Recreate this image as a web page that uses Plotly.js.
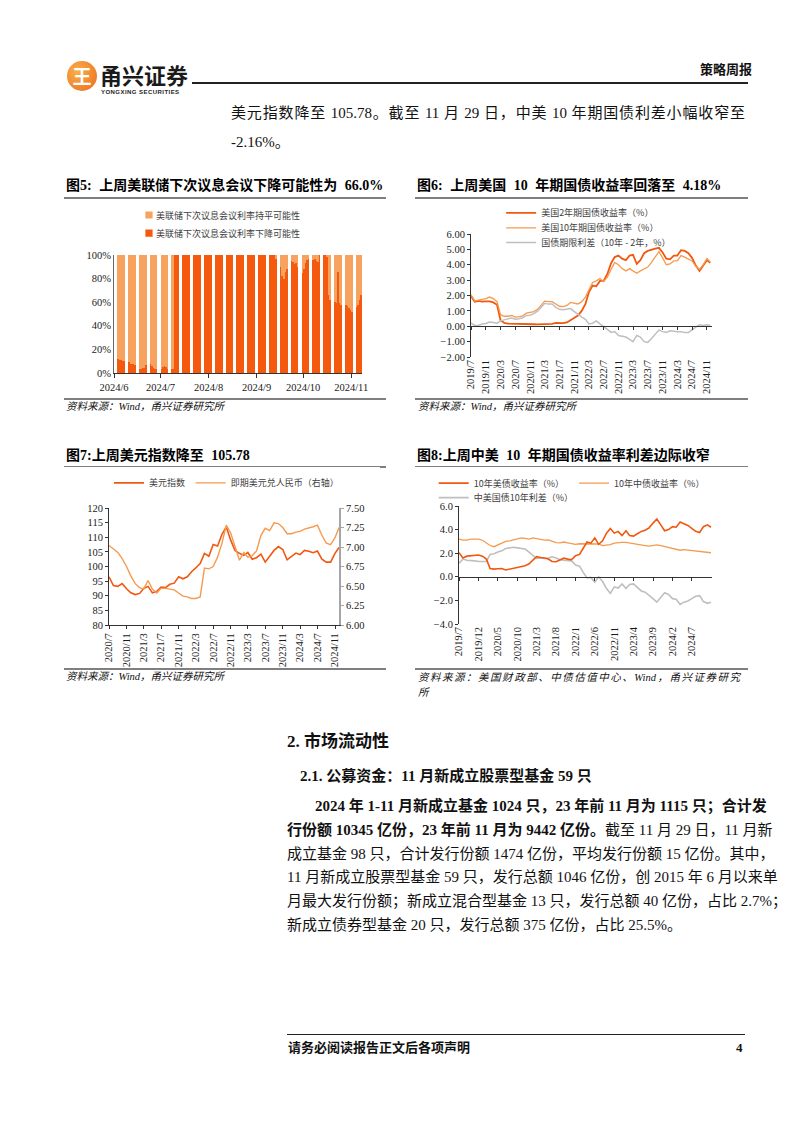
<!DOCTYPE html>
<html><head><meta charset="utf-8">
<script src="https://cdn.plot.ly/plotly-3.0.1.min.js"></script>
<style>
html,body{margin:0;padding:0;background:#fff}
body{width:802px;height:1133px;position:relative;overflow:hidden;font-family:"Liberation Serif","Noto Sans CJK SC",serif;color:#111}
.a{position:absolute;white-space:nowrap}
.b{font-weight:bold}
.cj{font-family:"Noto Sans CJK SC",sans-serif}
.j{text-align:justify;text-align-last:justify}
.hl{position:absolute;background:#7f7f7f;height:1.5px}
.src{position:absolute;font-style:italic;font-size:10.5px;line-height:14px;color:#111;white-space:nowrap}
.ttl{position:absolute;font-weight:bold;font-size:14px;line-height:16px;white-space:nowrap;color:#000;word-spacing:4px}
.p{position:absolute;font-size:15px;line-height:18px;white-space:nowrap}
.chart{position:absolute}
#c5 .legendpoints path{transform-origin:0 0;transform:translate(33px,0px) scale(0.6) !important;}
</style></head>
<body>
<!-- header -->
<div class="a" style="left:67px;top:61px;width:30px;height:30px;border-radius:50%;background:radial-gradient(circle at 35% 35%,#f8b04a,#ec6a1c);"></div>
<div class="a cj b" style="left:67px;top:61px;width:30px;height:30px;line-height:30px;text-align:center;font-size:19px;color:#fff;">王</div>
<div class="a cj b" style="left:100px;top:63px;font-size:22px;line-height:22px;color:#1a1a1a;">甬兴证券</div>
<div class="a b" style="left:101px;top:89px;font-size:6px;line-height:7px;letter-spacing:0.45px;font-family:'Liberation Sans',sans-serif;color:#222;">YONGXING SECURITIES</div>
<div class="a" style="left:192px;top:82px;width:556px;height:2px;background:#222;"></div>
<div class="a b" style="left:700px;top:62px;font-size:13px;line-height:16px;width:46px;text-align:right;">策略周报</div>

<div class="p j" style="left:231px;top:104px;width:514px;">美元指数降至 105.78。截至 11 月 29 日，中美 10 年期国债利差小幅收窄至</div>
<div class="p" style="left:231px;top:133px;">-2.16%。</div>

<!-- chart titles row 1 -->
<div class="ttl" style="left:66px;top:178px;">图5: 上周美联储下次议息会议下降可能性为 66.0%</div>
<div class="hl" style="left:64px;top:197px;width:322px;"></div>
<div class="ttl" style="left:417px;top:178px;">图6: 上周美国 10 年期国债收益率回落至 4.18%</div>
<div class="hl" style="left:415px;top:197px;width:333px;"></div>

<div id="c5" class="chart" style="left:60px;top:200px;width:320px;height:200px;"></div>
<div id="c6" class="chart" style="left:410px;top:200px;width:345px;height:200px;"></div>

<div class="hl" style="left:64px;top:398px;width:322px;"></div>
<div class="src" style="left:66px;top:400px;">资料来源：Wind，甬兴证券研究所</div>
<div class="hl" style="left:415px;top:398px;width:333px;"></div>
<div class="src" style="left:418px;top:400px;">资料来源：Wind，甬兴证券研究所</div>

<!-- chart titles row 2 -->
<div class="ttl" style="left:66px;top:448px;">图7:上周美元指数降至 105.78</div>
<div class="hl" style="left:64px;top:466px;width:322px;"></div>
<div class="ttl" style="left:417px;top:448px;">图8:上周中美 10 年期国债收益率利差边际收窄</div>
<div class="hl" style="left:415px;top:466px;width:333px;"></div>

<div id="c7" class="chart" style="left:60px;top:467px;width:320px;height:204px;"></div>
<div id="c8" class="chart" style="left:410px;top:467px;width:345px;height:204px;"></div>

<div class="hl" style="left:64px;top:668px;width:322px;"></div>
<div class="src" style="left:66px;top:670px;">资料来源：Wind，甬兴证券研究所</div>
<div class="hl" style="left:415px;top:668px;width:333px;"></div>
<div class="src j" style="left:418px;top:671px;width:322px;">资料来源：美国财政部、中债估值中心、Wind，甬兴证券研究</div>
<div class="src" style="left:418px;top:686px;">所</div>

<!-- section -->
<div class="a b" style="left:287px;top:732px;font-size:17px;line-height:20px;">2. 市场流动性</div>
<div class="a b" style="left:300px;top:767px;font-size:15px;line-height:18px;">2.1. 公募资金：11 月新成立股票型基金 59 只</div>

<div class="p j b" style="left:315px;top:797px;width:427px;">2024 年 1-11 月新成立基金 1024 只，23 年前 11 月为 1115 只；合计发</div>
<div class="p j" style="left:287px;top:821px;width:455px;"><b>行份额 10345 亿份，23 年前 11 月为 9442 亿份。</b>截至 11 月 29 日，11 月新</div>
<div class="p j" style="left:287px;top:845px;width:455px;">成立基金 98 只，合计发行份额 1474 亿份，平均发行份额 15 亿份。其中，</div>
<div class="p j" style="left:287px;top:868px;width:455px;">11 月新成立股票型基金 59 只，发行总额 1046 亿份，创 2015 年 6 月以来单</div>
<div class="p j" style="left:287px;top:892px;width:455px;">月最大发行份额；新成立混合型基金 13 只，发行总额 40 亿份，占比 2.7%；</div>
<div class="p" style="left:287px;top:916px;">新成立债券型基金 20 只，发行总额 375 亿份，占比 25.5%。</div>

<!-- footer -->
<div class="a" style="left:287px;top:1034px;width:458px;height:1px;background:#222;"></div>
<div class="a b" style="left:288px;top:1040px;font-size:13px;line-height:15px;">请务必阅读报告正文后各项声明</div>
<div class="a b" style="left:736px;top:1040px;font-size:13px;line-height:15px;">4</div>

<script>
// ---------------- data ----------------
// Fig 5: weekly rows (Mon..Fri) of next-FOMC probabilities, %, starting week of 2024-06-03
const fedWeekStart = '2024-06-03';
const cutProbWeeks = [
  [12,11,11,10,10],[9,8,8,8,7],[3,3,4,4,7],[8,6,4,3,3],[3,5,6,5,3],[3,3,100,100,100],
  [100,100,100,100,100],[100,100,100,100,100],[100,100,100,100,100],[100,100,100,100,100],
  [100,100,100,100,100],[100,100,100,100,100],[100,100,100,100,100],[100,100,100,100,100],
  [100,100,100,100,97],[90,82,80,86,88],[95,94,92,93,90],[85,88,93,96,97],[96,97,95,94,100],
  [100,100,98,66,62],[60,59,86,59,58],[58,57,55,53,52],[56,58,62,66]
];
const holdProbWeeks = [
  [88,89,89,90,90],[91,92,92,92,93],[97,97,96,96,93],[92,94,96,97,97],[97,95,94,95,97],[97,97,0,0,0],
  [0,0,0,0,0],[0,0,0,0,0],[0,0,0,0,0],[0,0,0,0,0],
  [0,0,0,0,0],[0,0,0,0,0],[0,0,0,0,0],[0,0,0,0,0],
  [0,0,0,0,3],[10,18,20,14,12],[5,6,8,7,10],[15,12,7,4,3],[4,3,5,6,0],
  [0,0,2,34,38],[40,41,14,41,42],[42,43,45,47,48],[44,42,38,34]
];
const fedTickText = ['2024/6','2024/7','2024/8','2024/9','2024/10','2024/11'];
const pctTicks = [0,20,40,60,80,100];

// Fig 6: US Treasury yields, monthly from 2019/7, last point 2024/11/29
const ust2y = [1.95,1.6,1.65,1.6,1.62,1.62,1.55,1.4,0.4,0.22,0.17,0.17,0.15,0.13,0.13,0.15,0.16,0.13,0.12,0.12,0.14,0.16,0.15,0.22,0.2,0.2,0.25,0.4,0.55,0.7,1.0,1.45,2.2,2.65,2.6,2.95,2.95,3.4,4.1,4.5,4.6,4.4,4.3,4.6,4.65,4.05,4.3,4.75,4.9,4.95,5.05,5.1,4.8,4.4,4.35,4.6,4.6,4.95,4.9,4.75,4.45,3.95,3.6,3.95,4.3,4.13];
const ust10y = [2.05,1.65,1.7,1.75,1.8,1.9,1.8,1.6,0.75,0.65,0.65,0.7,0.6,0.62,0.68,0.85,0.88,0.95,1.1,1.35,1.63,1.6,1.6,1.45,1.3,1.28,1.35,1.55,1.5,1.45,1.6,1.9,2.35,2.85,2.95,3.1,2.9,3.2,3.7,4.15,4.0,3.75,3.6,3.75,3.6,3.45,3.6,3.75,3.85,4.15,4.5,4.85,4.45,4.0,4.05,4.25,4.25,4.6,4.5,4.35,4.25,3.9,3.7,4.0,4.4,4.18];
const ustTerm = [0.2,0.05,0.05,0.15,0.18,0.28,0.25,0.2,0.35,0.43,0.48,0.53,0.45,0.49,0.55,0.7,0.72,0.82,0.98,1.23,1.49,1.44,1.45,1.23,1.1,1.08,1.1,1.15,0.95,0.75,0.6,0.45,0.15,0.2,0.35,0.15,-0.05,-0.2,-0.4,-0.35,-0.6,-0.65,-0.7,-0.85,-1.0,-0.6,-0.7,-1.0,-1.05,-0.8,-0.55,-0.25,-0.35,-0.4,-0.3,-0.35,-0.35,-0.35,-0.4,-0.4,-0.2,-0.05,0.1,0.05,0.1,0.05];
const ustTickText = ['2019/7','2019/11','2020/3','2020/7','2020/11','2021/3','2021/7','2021/11','2022/3','2022/7','2022/11','2023/3','2023/7','2023/11','2024/3','2024/7','2024/11'];

// Fig 7: dollar index and spot USD/CNY, monthly from 2020/7, last point 2024/11/29
const dxy = [96.5,93.5,93.2,94.2,92.4,91,90.4,90.8,92.5,93.2,91,91.5,93,92.8,93.9,94.3,96.5,95.8,96.5,98.3,99.5,101,104.5,103.5,107.5,107,111,113.5,109,105.5,104.5,103.8,104.8,102.5,103,104.2,101.5,103.5,105.5,106.8,105.8,102.3,103.5,104.6,104.1,105.5,105.2,104.7,105.3,102.5,101.5,101.5,104.5,106.5];
const usdcny = [7.02,6.98,6.93,6.85,6.75,6.63,6.53,6.48,6.46,6.57,6.46,6.41,6.47,6.47,6.46,6.45,6.41,6.37,6.36,6.34,6.34,6.36,6.73,6.72,6.75,6.87,7.05,7.28,7.18,7.02,6.83,6.93,6.87,6.89,6.95,7.15,7.24,7.21,7.31,7.30,7.25,7.17,7.17,7.19,7.2,7.23,7.24,7.26,7.28,7.15,7.05,7.03,7.12,7.25];
const fxTickText = ['2020/7','2020/11','2021/3','2021/7','2021/11','2022/3','2022/7','2022/11','2023/3','2023/7','2023/11','2024/3','2024/7','2024/11'];

// Fig 8: 10Y yields US vs China and spread, monthly from 2019/7, last point 2024/11/29
const us10y = [2.05,1.6,1.75,1.8,1.82,1.85,1.75,1.5,0.7,0.65,0.68,0.7,0.58,0.65,0.68,0.8,0.88,0.93,1.1,1.4,1.7,1.63,1.6,1.5,1.3,1.28,1.45,1.58,1.5,1.45,1.78,1.9,2.4,2.95,2.85,3.3,2.75,3.05,3.7,4.1,3.7,3.85,3.5,3.9,3.5,3.45,3.65,3.85,3.95,4.15,4.55,4.9,4.4,3.9,4.0,4.25,4.2,4.65,4.5,4.35,4.1,3.85,3.75,4.25,4.4,4.2];
const cn10y = [3.2,3.1,3.1,3.2,3.2,3.2,3.1,2.85,2.65,2.55,2.7,2.9,3.0,3.05,3.15,3.2,3.3,3.25,3.2,3.3,3.25,3.2,3.1,3.12,3.0,2.9,2.88,2.95,2.88,2.8,2.75,2.8,2.8,2.83,2.78,2.82,2.78,2.65,2.68,2.72,2.85,2.9,2.92,2.92,2.86,2.8,2.72,2.65,2.65,2.6,2.68,2.7,2.65,2.56,2.48,2.4,2.3,2.25,2.3,2.27,2.22,2.2,2.15,2.12,2.1,2.04];
const cnUsSpread = [1.15,1.5,1.4,1.4,1.35,1.3,1.3,1.3,1.9,1.95,2.1,2.2,2.4,2.45,2.5,2.45,2.4,2.35,2.1,1.85,1.55,1.6,1.55,1.6,1.7,1.6,1.45,1.4,1.4,1.35,1.0,0.9,0.4,-0.1,-0.05,-0.45,0.0,-0.4,-1.0,-1.4,-0.85,-0.95,-0.6,-1.0,-0.65,-0.6,-0.9,-1.2,-1.3,-1.55,-1.85,-2.15,-1.75,-1.35,-1.5,-1.85,-1.9,-2.35,-2.15,-2.05,-1.85,-1.65,-1.6,-2.1,-2.25,-2.16];
const cnTickText = ['2019/7','2019/12','2020/5','2020/10','2021/3','2021/8','2022/1','2022/6','2022/11','2023/4','2023/9','2024/2','2024/7'];
const lastDate = '2024-11-29';

// ---------------- helpers ----------------
const DARK = '#F1580F', LIGHT = '#F59A4F', GREY = '#BFBFBF';
const BAR_LIGHT = '#F7A25E', BAR_DARK = '#F4590D';
const SERIF = '"Liberation Serif","Noto Sans CJK SC",serif';
const CJK = '"Noto Sans CJK SC",sans-serif';
const DAY = 86400000;
function monthStarts(y, m, n){
  const a=[];
  for(let i=0;i<n;i++){const yy=y+Math.floor((m-1+i)/12), mm=(m-1+i)%12+1; a.push(yy+'-'+String(mm).padStart(2,'0')+'-01');}
  return a;
}
function labelToDate(t){const p=t.split('/'); return p[0]+'-'+p[1].padStart(2,'0')+'-01';}
function weekdayDates(start, weeks){
  const base = new Date(start+'T12:00:00Z').getTime(); const out=[];
  weeks.forEach((w,wi)=>w.forEach((v,di)=>{const d=new Date(base+(wi*7+di)*DAY); out.push(d.toISOString().slice(0,10)+' 12:00');}));
  return out;
}
const tickFont = {family:SERIF,size:10.5,color:'#1a1a1a'};
const legFont = {family:CJK,size:9,color:'#404040'};
const cfg = {staticPlot:true,displayModeBar:false};
function leg(x,y){return {visible:true,x:x,y:y,xanchor:'left',yanchor:'middle',bgcolor:'rgba(0,0,0,0)',borderwidth:0,font:legFont,orientation:'v'};}
function margin(l,r,t,b){return {l:l,r:r,t:t,b:b,autoexpand:false};}

// ---------------- Fig 5 ----------------
(function(){
  const xs = weekdayDates(fedWeekStart, cutProbWeeks);
  const cut = cutProbWeeks.flat(), hold = holdProbWeeks.flat();
  Plotly.newPlot('c5',[
    {type:'bar',x:xs,y:cut,width:DAY,name:'美联储下次议息会议利率下降可能性',marker:{color:BAR_DARK,line:{width:0}},legend:'legend2',showlegend:true},
    {type:'bar',x:xs,y:hold,width:DAY,name:'美联储下次议息会议利率持平可能性',marker:{color:BAR_LIGHT,line:{width:0}},legend:'legend',showlegend:true}
  ],{
    width:320,height:200,margin:margin(54,18,55,27),paper_bgcolor:'#fff',plot_bgcolor:'#fff',showlegend:true,
    barmode:'stack',bargap:0,
    xaxis:{type:'date',range:['2024-06-01','2024-11-08'],tickvals:fedTickText.map(labelToDate),ticktext:fedTickText,
      ticks:'outside',ticklen:4,tickcolor:'#333',showline:true,linecolor:'#333',linewidth:1,showgrid:false,zeroline:false,tickfont:tickFont,tickangle:0},
    yaxis:{range:[0,100],tickvals:pctTicks,ticktext:pctTicks.map(v=>v+'%'),showline:true,linecolor:'#666',linewidth:1,ticks:'',showgrid:false,zeroline:false,tickfont:tickFont},
    legend:leg(0.008,1.339),legend2:leg(0.008,1.186)
  },cfg);
})();

// ---------------- Fig 6 ----------------
(function(){
  const xs = monthStarts(2019,7,65).concat([lastDate]);
  Plotly.newPlot('c6',[
    {type:'scatter',mode:'lines',x:xs,y:ust2y,name:'美国2年期国债收益率（%）',line:{color:DARK,width:1.8},legend:'legend',showlegend:true},
    {type:'scatter',mode:'lines',x:xs,y:ust10y,name:'美国10年期国债收益率（%）',line:{color:LIGHT,width:1.3},legend:'legend2',showlegend:true},
    {type:'scatter',mode:'lines',x:xs,y:ustTerm,name:'国债期限利差（10年 - 2年，%）',line:{color:GREY,width:1.5},legend:'legend3',showlegend:true},
    {type:'scatter',mode:'lines',x:[],y:[],xaxis:'x2',showlegend:false,hoverinfo:'skip'}
  ],{
    width:345,height:200,margin:margin(61,43,34,43),paper_bgcolor:'#fff',plot_bgcolor:'#fff',showlegend:true,
    xaxis:{type:'date',range:['2019-07-01','2024-12-13'],tickvals:ustTickText.map(labelToDate),ticktext:ustTickText,tickangle:-90,
      ticks:'',showline:false,showgrid:false,zeroline:false,tickfont:tickFont},
    xaxis2:{type:'date',matches:'x',overlaying:'x',anchor:'free',position:0.25,tickvals:ustTickText.map(labelToDate),showticklabels:false,
      ticks:'outside',ticklen:3,tickcolor:'#333',showline:true,linecolor:'#333',linewidth:1,showgrid:false,zeroline:false},
    yaxis:{range:[-2,6],dtick:1,tickformat:'.2f',showline:true,linecolor:'#333',ticks:'outside',ticklen:3,tickcolor:'#333',showgrid:false,zeroline:false,tickfont:tickFont},
    legend:leg(0.125,1.172),legend2:leg(0.125,1.049),legend3:leg(0.125,0.931)
  },cfg);
})();

// ---------------- Fig 7 ----------------
(function(){
  const xs = monthStarts(2020,7,53).concat([lastDate]);
  Plotly.newPlot('c7',[
    {type:'scatter',mode:'lines',x:xs,y:dxy,name:'美元指数',line:{color:DARK,width:1.6},legend:'legend',showlegend:true},
    {type:'scatter',mode:'lines',x:xs,y:usdcny,name:'即期美元兑人民币（右轴）',yaxis:'y2',line:{color:LIGHT,width:1.4},legend:'legend2',showlegend:true}
  ],{
    width:320,height:204,margin:margin(49,41,41,46),paper_bgcolor:'#fff',plot_bgcolor:'#fff',showlegend:true,
    xaxis:{type:'date',range:['2020-07-01','2024-11-29'],tickvals:fxTickText.map(labelToDate),ticktext:fxTickText,tickangle:-90,
      ticks:'outside',ticklen:3,tickcolor:'#333',showline:true,linecolor:'#333',showgrid:false,zeroline:false,tickfont:tickFont},
    yaxis:{range:[80,120],dtick:5,showline:true,linecolor:'#333',ticks:'outside',ticklen:3,tickcolor:'#333',showgrid:false,zeroline:false,tickfont:tickFont},
    yaxis2:{range:[6,7.5],dtick:0.25,tickformat:'.2f',overlaying:'y',side:'right',showline:true,linecolor:'#A6A6A6',linewidth:2,ticks:'outside',ticklen:3,tickcolor:'#A6A6A6',showgrid:false,zeroline:false,tickfont:tickFont},
    legend:leg(0.0,1.215),legend2:leg(0.355,1.215)
  },cfg);
})();

// ---------------- Fig 8 ----------------
(function(){
  const xs = monthStarts(2019,7,65).concat([lastDate]);
  Plotly.newPlot('c8',[
    {type:'scatter',mode:'lines',x:xs,y:cnUsSpread,name:'中美国债10年利差（%）',line:{color:GREY,width:1.6},legend:'legend3',showlegend:true},
    {type:'scatter',mode:'lines',x:xs,y:cn10y,name:'10年中债收益率（%）',line:{color:LIGHT,width:1.3},legend:'legend2',showlegend:true},
    {type:'scatter',mode:'lines',x:xs,y:us10y,name:'10年美债收益率（%）',line:{color:DARK,width:1.6},legend:'legend',showlegend:true},
    {type:'scatter',mode:'lines',x:[],y:[],xaxis:'x2',showlegend:false,hoverinfo:'skip'}
  ],{
    width:345,height:204,margin:margin(49,43,39,47),paper_bgcolor:'#fff',plot_bgcolor:'#fff',showlegend:true,
    xaxis:{type:'date',range:['2019-07-01','2024-12-07'],tickvals:cnTickText.map(labelToDate),ticktext:cnTickText,tickangle:-90,
      ticks:'',showline:false,showgrid:false,zeroline:false,tickfont:tickFont},
    xaxis2:{type:'date',matches:'x',overlaying:'x',anchor:'free',position:0.4,tickvals:cnTickText.map(labelToDate),showticklabels:false,
      ticks:'outside',ticklen:3,tickcolor:'#333',showline:true,linecolor:'#333',linewidth:1,showgrid:false,zeroline:false},
    yaxis:{range:[-4,6],dtick:2,tickformat:'.1f',showline:true,linecolor:'#333',ticks:'outside',ticklen:3,tickcolor:'#333',showgrid:false,zeroline:false,tickfont:tickFont},
    legend:leg(-0.1,1.194),legend2:leg(0.455,1.194),legend3:leg(-0.1,1.071)
  },cfg);
})();
</script>
</body></html>
